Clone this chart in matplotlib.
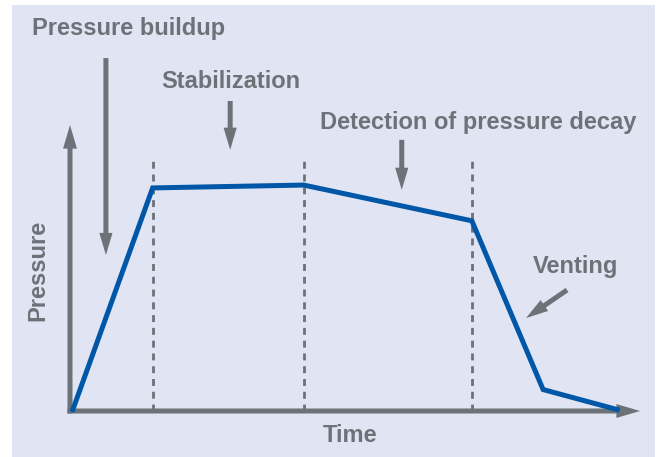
import matplotlib.pyplot as plt
from matplotlib.patches import Rectangle

plt.rcParams['font.family'] = ['Liberation Sans', 'DejaVu Sans']

# pressure curve (arbitrary units)
time = [0.5, 14.5, 41, 70.5, 83, 96]
pressure = [0.5, 78, 79, 66.5, 7.5, 0.5]
phase_edges = [14.5, 41, 70.5]
phase_top = 88.5

gray = '#6b7378'
blue = '#0057a8'
bg = '#e1e5f3'

W, H = 660, 457
fig = plt.figure(figsize=(W / 100, H / 100), dpi=100, facecolor='white')
fig.patches.append(Rectangle((12 / W, 0), 643 / W, 1 - 5 / H, transform=fig.transFigure,
                             facecolor=bg, edgecolor='none', zorder=-10))

# axes box: origin at (70, 411) px, ends at (640, 125) px
ax = fig.add_axes([70 / W, (H - 411) / H, 570 / W, 286 / H])
ax.set_zorder(1)
ax.set_xlim(0, 100)
ax.set_ylim(0, 100)
ax.patch.set_visible(False)
for s in ax.spines.values():
    s.set_visible(False)
ax.set_xticks([])
ax.set_yticks([])

# axis arrows (filled polygons, sizes in points)
arr = dict(width=3.6, headwidth=10, headlength=17, facecolor=gray, edgecolor='none',
           lw=0, shrink=0)
ax.annotate('', xy=(100, 0), xytext=(-0.45, 0), arrowprops=arr, annotation_clip=False)
ax.annotate('', xy=(0, 100), xytext=(0, -0.9), arrowprops=arr, annotation_clip=False)

for x in phase_edges:
    ax.plot([x, x], [0, phase_top], color=gray, lw=2, ls=(0, (2.5, 2.1)), zorder=1)

ax.plot(time, pressure, color=blue, lw=3.6, solid_joinstyle='miter', zorder=3, clip_on=False)

# callout arrows
carr = dict(width=3.6, headwidth=9.5, headlength=16, facecolor=gray, edgecolor='none',
            lw=0, shrink=0)
ax.annotate('', xy=(6.3, 54.5), xytext=(6.3, 123.4), arrowprops=carr, annotation_clip=False)
ax.annotate('', xy=(28.1, 91.3), xytext=(28.1, 108.4), arrowprops=carr, annotation_clip=False)
ax.annotate('', xy=(58.2, 77.3), xytext=(58.2, 94.8), arrowprops=carr, annotation_clip=False)
ax.annotate('', xy=(80, 32.5), xytext=(87.2, 42.3), arrowprops=carr, annotation_clip=False)

def ftext(x, y, s, **kw):
    fig.text(x / W, 1 - y / H, s, color=gray, fontsize=17, fontweight='bold', **kw)

ftext(32, 28, 'Pressure buildup', ha='left', va='center')
ftext(161, 82, 'Stabilization', ha='left', va='center')
ftext(320, 122, 'Detection of pressure decay', ha='left', va='center')
ftext(533, 267, 'Venting', ha='left', va='center')
ftext(350, 436, 'Time', ha='center', va='center')
ftext(38, 270, 'Pressure', ha='center', va='center', rotation=90)

fig.savefig('out.png', dpi=100, facecolor='white')
